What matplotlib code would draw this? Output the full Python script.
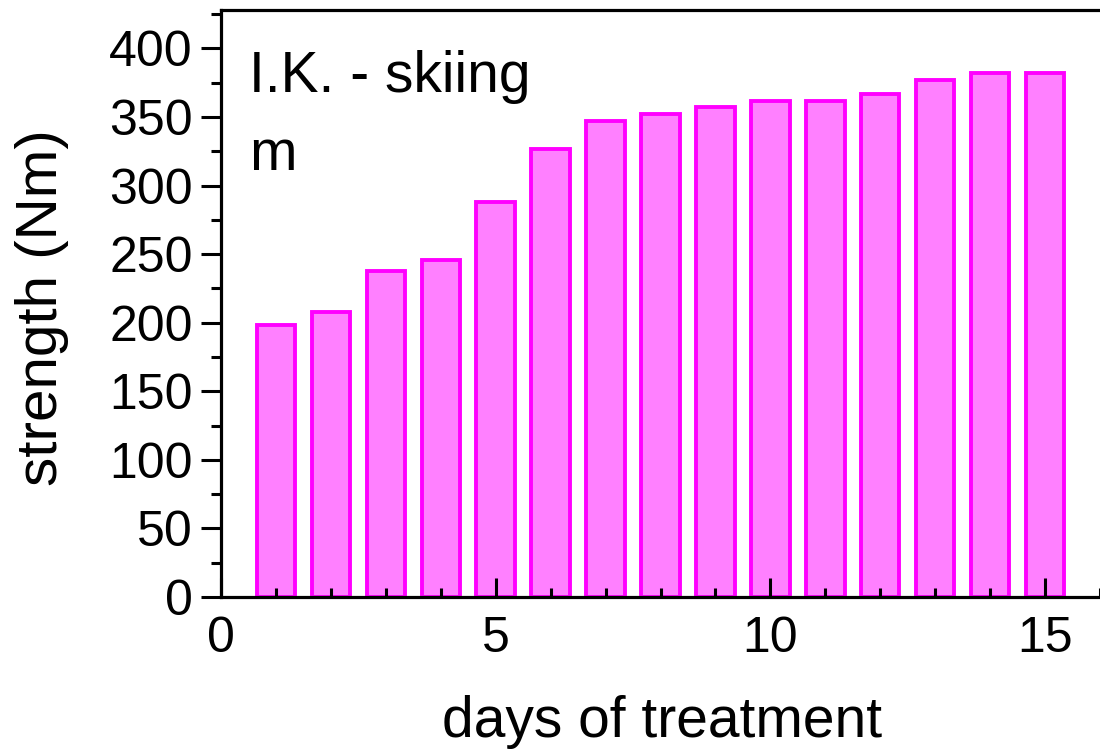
import matplotlib
matplotlib.use("Agg")
import matplotlib.pyplot as plt
from matplotlib.ticker import MultipleLocator

plt.rcParams['font.family'] = ['Liberation Sans', 'DejaVu Sans']

# daily strength measurements
days = [1, 2, 3, 4, 5, 6, 7, 8, 9, 10, 11, 12, 13, 14, 15]
strength = [198, 208, 238, 246, 288, 327, 347, 352, 357, 362, 362, 367, 377, 382, 382]

x_ticks = [0, 5, 10, 15]
y_ticks = [0, 50, 100, 150, 200, 250, 300, 350, 400]

W, H = 1100, 753
fig = plt.figure(figsize=(W / 100, H / 100), dpi=100)
ax = fig.add_axes([221 / W, 1 - 597 / H, (W - 221) / W, (597 - 10) / H])

ax.bar(days, strength, width=0.7, color='#ff80ff', edgecolor='#ff00ff',
       linewidth=2.8, zorder=1)

ax.set_xlim(0, 16)
ax.set_ylim(0, 428)

ax.set_xticks(x_ticks)
ax.set_yticks(y_ticks)
ax.xaxis.set_minor_locator(MultipleLocator(1))
ax.yaxis.set_minor_locator(MultipleLocator(25))

ax.tick_params(axis='x', which='major', direction='in', length=14, width=2.2,
               labelsize=36, pad=14)
ax.tick_params(axis='x', which='minor', direction='in', length=6.5, width=2.2)
ax.tick_params(axis='y', which='major', direction='out', length=14.5, width=2.2,
               labelsize=36, pad=6)
ax.tick_params(axis='y', which='minor', direction='out', length=7.2, width=2.2)

for side in ('left', 'bottom', 'top'):
    ax.spines[side].set_linewidth(2.3)
ax.spines['right'].set_visible(False)

fig.text(662 / W, 1 - 737 / H, 'days of treatment', fontsize=41,
         ha='center', va='baseline')
fig.text(42 / W, 1 - 308 / H, 'strength (Nm)', fontsize=42,
         ha='center', va='center', rotation=90)

fig.text(249 / W, 1 - 92 / H, 'I.K. - skiing', fontsize=41,
         ha='left', va='baseline')
fig.text(249 / W, 1 - 170 / H, 'm', fontsize=41, ha='left', va='baseline')

fig.savefig('out.png', dpi=100)
